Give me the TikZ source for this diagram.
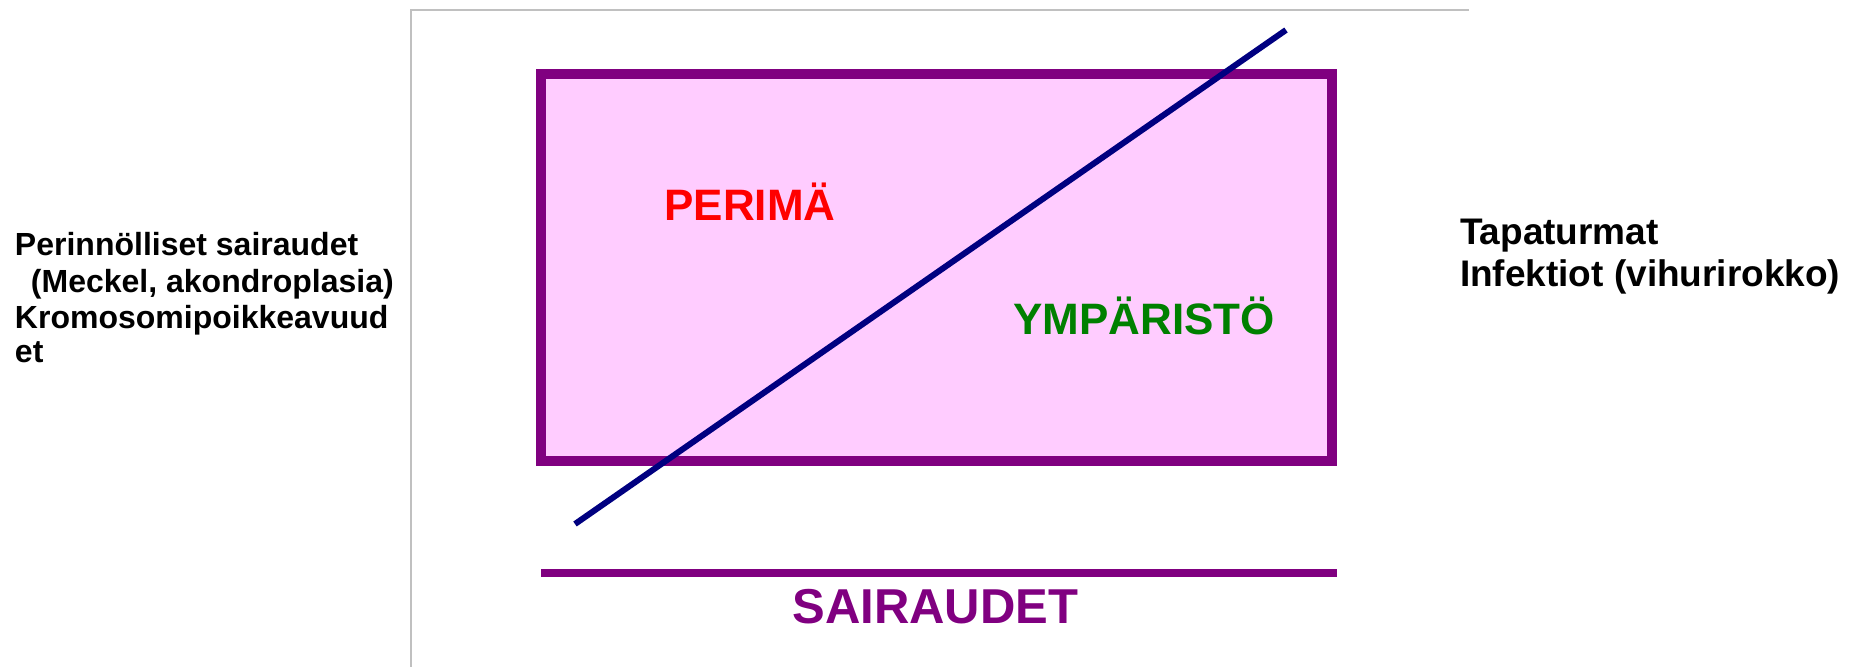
\documentclass[tikz,border=0pt]{standalone}
\usepackage{fontspec}
\setmainfont{Liberation Sans}
\definecolor{frame}{HTML}{800080}
\definecolor{boxfill}{HTML}{FFCCFF}
\definecolor{divider}{HTML}{000080}
\definecolor{axisgray}{HTML}{C0C0C0}
\definecolor{geneRed}{HTML}{FF0000}
\definecolor{envGreen}{HTML}{008000}
\tikzset{
  lbl/.style={anchor=base west, inner sep=0pt, outer sep=0pt, font=\bfseries\fontsize{16}{18}\selectfont},
  rlbl/.style={anchor=base west, inner sep=0pt, outer sep=0pt, font=\bfseries\fontsize{18.5}{20}\selectfont},
  bigred/.style={anchor=base west, inner sep=0pt, text=geneRed, font=\bfseries\fontsize{22}{24}\selectfont},
  biggreen/.style={anchor=base west, inner sep=0pt, text=envGreen, font=\bfseries\fontsize{22}{24}\selectfont},
  bigpurple/.style={anchor=base west, inner sep=0pt, text=frame, font=\bfseries\fontsize{24.5}{26}\selectfont},
  axisline/.style={draw=axisgray, line width=1pt},
}
\begin{document}
\begin{tikzpicture}[x=0.5pt,y=-0.5pt]
\useasboundingbox (0,0) rectangle (1854,667);
% axes
\coordinate (ax0) at (411,667);
\coordinate (ax1) at (411,10);
\coordinate (ax2) at (1469,10);
\draw[axisline] (ax0) -- (ax1) -- (ax2);
% main box
\coordinate (bl) at (541,74);
\coordinate (tr) at (1332,461);
\draw[draw=frame, fill=boxfill, line width=5pt] (bl) rectangle (tr);
% divider line
\coordinate (d0) at (575,524);
\coordinate (d1) at (1286,30);
\draw[divider, line width=3pt] (d0) -- (d1);
% bottom bar
\coordinate (s0) at (541,573);
\coordinate (s1) at (1337,573);
\draw[frame, line width=4pt] (s0) -- (s1);
% labels
\node[bigred] (perima) at (664,221) {PERIMÄ};
\node[biggreen] (ymparisto) at (1013,335) {YMPÄRISTÖ};
\node[bigpurple] (sairaudet) at (792,624) {SAIRAUDET};
\node[lbl] (l1) at (15,256) {Perinnölliset sairaudet};
\node[lbl] (l2) at (31,293) {(Meckel, akondroplasia)};
\node[lbl] (l3) at (15,329) {Kromosomipoikkeavuud};
\node[lbl] (l4) at (15,363) {et};
\node[rlbl] (r1) at (1460,245) {Tapaturmat};
\node[rlbl] (r2) at (1460,287) {Infektiot (vihurirokko)};
\end{tikzpicture}
\end{document}
